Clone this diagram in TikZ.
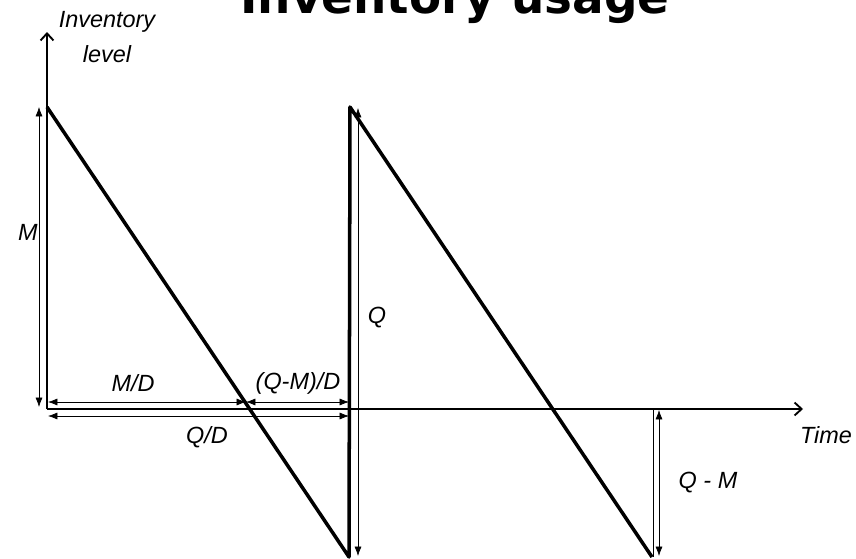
\documentclass[tikz,border=0pt]{standalone}
\usepackage{fontspec}
\setmainfont{Liberation Sans}
\newfontfamily\titlefont{DejaVu Sans}
\usetikzlibrary{arrows.meta}

\begin{document}
\begin{tikzpicture}[x=0.03cm,y=-0.03cm,
    lbl/.style={font=\fontsize{20}{30}\selectfont\itshape,align=center,inner sep=0pt},
    axis/.style={-{Straight Barb[length=6pt,width=11pt]},line width=1.6pt},
    saw/.style={line width=3pt,line join=round},
    dim/.style={{Latex[length=8pt,width=6pt]}-{Latex[length=8pt,width=6pt]},line width=0.6pt},
    ext/.style={line width=0.7pt}]
    \useasboundingbox (0,0) rectangle (856,559);
    \node[font=\titlefont\bfseries\fontsize{40}{44}\selectfont,anchor=base,inner sep=0pt] (t) at (455,13) {Inventory usage};
    % axes
    \coordinate (o) at (47,409);
    \coordinate (yt) at (47,32);
    \coordinate (xt) at (803,409);
    \draw[axis] (o) -- (yt);
    \draw[axis] (o) -- (xt);
    % sawtooth
    \coordinate (a1) at (47,107);
    \coordinate (b1) at (349,557);
    \coordinate (a2) at (350,107);
    \coordinate (b2) at (652,557);
    \draw[saw] (a1) -- (b1) -- (a2) -- (b2);
    % dimensions
    \coordinate (m1) at (39,107);
    \coordinate (m2) at (39,407);
    \draw[dim] (m1) -- (m2);
    \coordinate (q1) at (358,108);
    \coordinate (q2) at (358,556);
    \draw[dim] (q1) -- (q2);
    \coordinate (e1) at (653,409);
    \coordinate (e2) at (653,557);
    \draw[ext] (e1) -- (e2);
    \coordinate (r1) at (659,410);
    \coordinate (r2) at (659,556);
    \draw[dim] (r1) -- (r2);
    \coordinate (h0) at (48,402);
    \coordinate (h1) at (246,402);
    \coordinate (h2) at (349,402);
    \draw[dim] (h0) -- (h1);
    \draw[dim] (h1) -- (h2);
    \coordinate (k0) at (48,416);
    \coordinate (k1) at (349,416);
    \draw[dim] (k0) -- (k1);
    % labels
    \node[lbl] (inv) at (107,37) {Inventory\\level};
    \node[lbl] (lm) at (28,232) {M};
    \node[lbl] (lq) at (377,318) {Q};
    \node[lbl] (lmd) at (133,383) {M/D};
    \node[lbl] (lqmd) at (298,383) {(Q-M)/D};
    \node[lbl] (lqd) at (207,437) {Q/D};
    \node[lbl] (lt) at (826,435) {Time};
    \node[lbl] (lqm) at (708,483) {Q - M};
\end{tikzpicture}
\end{document}
